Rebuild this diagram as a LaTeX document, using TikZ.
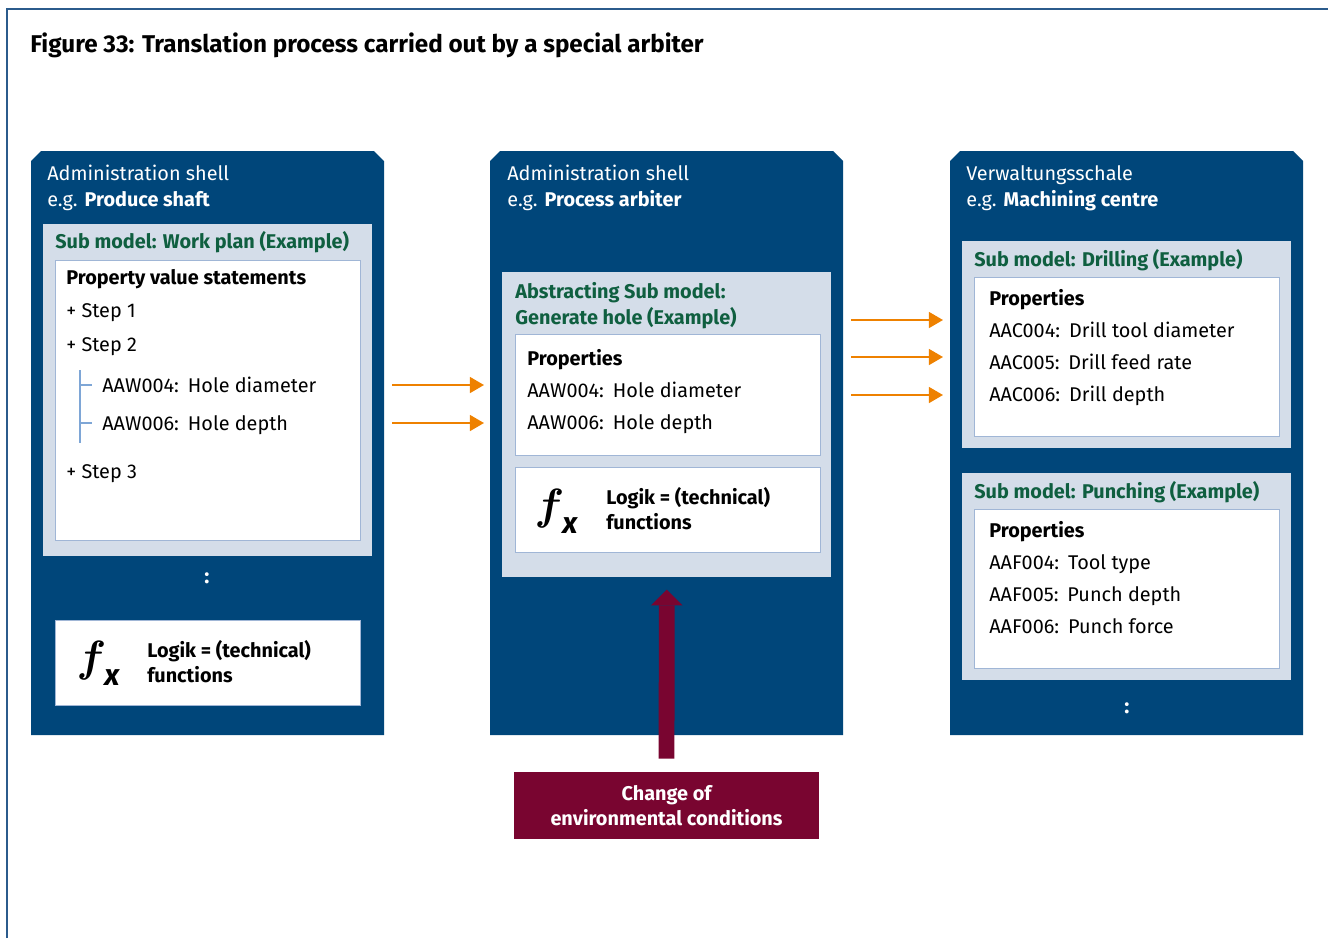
\documentclass[tikz,border=0pt]{standalone}
\usepackage{fontspec}
\setmainfont{Fira Sans}
\usetikzlibrary{arrows.meta, positioning, calc}

\definecolor{shellblue}{HTML}{00467A}
\definecolor{panelgrey}{HTML}{D4DDE9}
\definecolor{subgreen}{HTML}{0F5F40}
\definecolor{boxline}{HTML}{A0B6D6}
\definecolor{treeline}{HTML}{7EA6D6}
\definecolor{flowarrow}{HTML}{EE8100}
\definecolor{envred}{HTML}{790530}
\definecolor{framecol}{HTML}{2B5B8C}

\begin{document}
\begin{tikzpicture}[x=0.02cm, y=-0.02cm,
  txt/.style={anchor=base west, inner sep=0pt, font=\fontsize{11.3}{13}\selectfont},
  strong/.style={txt, font=\fontsize{11.3}{13}\selectfont\bfseries},
  shelltxt/.style={txt, text=white},
  subtitle/.style={strong, text=subgreen},
  panel/.style={fill=panelgrey, anchor=north west, inner sep=0pt, minimum width=6.58cm},
  whitebox/.style={fill=white, draw=boxline, line width=0.8pt, anchor=north west, inner sep=0pt, minimum width=6.1cm},
  fxsym/.style={inner sep=0pt, font=\fontsize{27}{27}\selectfont\boldmath},
  more/.style={inner sep=0pt, text=white, font=\fontsize{12}{13}\selectfont\bfseries},
  flow/.style={flowarrow, line width=1.1pt, -{Triangle[length=8pt, width=9pt]}},
  envarrow/.style={envred, line width=9pt, -{Triangle[length=9pt, width=18pt, line width=0pt]}},
  envbox/.style={fill=envred, text=white, align=center, inner sep=0pt, minimum width=6.1cm, minimum height=1.34cm, font=\fontsize{11.3}{14.2}\selectfont\bfseries}
]
\useasboundingbox (0,0) rectangle (1328,938);

% frame and title
\draw[framecol, line width=1.2pt] (7,938) -- (7,9) -- (1328,9);
\node[anchor=base west, inner sep=0pt, font=\fontsize{13.8}{16}\selectfont\bfseries] (title) at (30,52) {Figure 33: Translation process carried out by a special arbiter};

% the three administration shells
\foreach \sx in {31, 490, 950} {
  \fill[shellblue] (\sx,735) -- (\sx,161) -- (\sx+10,151) -- (\sx+343,151) -- (\sx+353,161) -- (\sx+353,735) -- cycle;
}

% left shell: produce shaft
\node[shelltxt] (adA) at (47,180) {Administration shell};
\node[shelltxt] (egA) at (47,206) {e.g. \textbf{Produce shaft}};
\node[panel, minimum height=6.64cm] (subA) at (43,224) {};
\node[subtitle] (subAt) at (55,248) {Sub model: Work plan (Example)};
\node[whitebox, minimum height=5.6cm] (pvA) at (55,260) {};
\node[strong] (pvAt) at (66,284) {Property value statements};
\node[txt] (step1) at (66,317) {+ Step 1};
\node[txt] (step2) at (66,351) {+ Step 2};
\node[txt] (aaw4) at (102,392) {AAW004:\hspace{.45em}Hole diameter};
\node[txt] (aaw6) at (102,430) {AAW006:\hspace{.45em}Hole depth};
\node[txt] (step3) at (66,478) {+ Step 3};
\draw[treeline, line width=0.8pt] (80,370) -- (80,443) (80,385) -- (92,385) (80,423) -- (92,423);
\node[more] (moreA) at (207,578) {:};
\node[whitebox, minimum height=1.7cm] (fnA) at (55,620) {};
\node[fxsym] (fxA) at (98,663) {$f$\kern-1pt\raisebox{-0.3em}{\fontsize{17}{17}\selectfont\bfseries\itshape x}};
\node[strong] (lgA) at (147,657) {Logik = (technical)};
\node[strong] (lgA2) at (147,682) {functions};

% middle shell: process arbiter
\node[shelltxt] (adB) at (507,180) {Administration shell};
\node[shelltxt] (egB) at (507,206) {e.g. \textbf{Process arbiter}};
\node[panel, minimum height=6.1cm] (subB) at (502,272) {};
\node[subtitle] (subBt) at (515,298) {Abstracting Sub model:};
\node[subtitle] (subBt2) at (515,324) {Generate hole (Example)};
\node[whitebox, minimum height=2.42cm] (prB) at (515,334) {};
\node[strong] (prBt) at (527,365) {Properties};
\node[txt] (gh4) at (527,397) {AAW004:\hspace{.45em}Hole diameter};
\node[txt] (gh6) at (527,429) {AAW006:\hspace{.45em}Hole depth};
\node[whitebox, minimum height=1.7cm] (fnB) at (515,467) {};
\node[fxsym] (fxB) at (556,511) {$f$\kern-1pt\raisebox{-0.3em}{\fontsize{17}{17}\selectfont\bfseries\itshape x}};
\node[strong] (lgB) at (606,504) {Logik = (technical)};
\node[strong] (lgB2) at (606,529) {functions};

% right shell: machining centre
\node[shelltxt] (adC) at (966,180) {Verwaltungsschale};
\node[shelltxt] (egC) at (966,206) {e.g. \textbf{Machining centre}};
\node[panel, minimum height=4.14cm] (subC) at (962,241) {};
\node[subtitle] (subCt) at (974,266) {Sub model: Drilling (Example)};
\node[whitebox, minimum height=3.18cm] (prC) at (974,277) {};
\node[strong] (prCt) at (989,305) {Properties};
\foreach \code/\name [count=\i] in {AAC004/Drill tool diameter, AAC005/Drill feed rate, AAC006/Drill depth}
  \node[txt] (drill\i) at (989,305+32.3*\i) {\code:\hspace{.45em}\name};
\node[panel, minimum height=4.14cm] (subD) at (962,473) {};
\node[subtitle] (subDt) at (974,498) {Sub model: Punching (Example)};
\node[whitebox, minimum height=3.18cm] (prD) at (974,509) {};
\node[strong] (prDt) at (989,537) {Properties};
\foreach \code/\name [count=\i] in {AAF004/Tool type, AAF005/Punch depth, AAF006/Punch force}
  \node[txt] (punch\i) at (989,537+32*\i) {\code:\hspace{.45em}\name};
\node[more] (moreC) at (1127,708) {:};

% translation arrows
\foreach \yy [count=\i] in {385, 423} {
  \coordinate (inL\i) at (392,\yy);
  \coordinate (inR\i) at (484,\yy);
  \draw[flow] (inL\i) -- (inR\i);
}
\foreach \yy [count=\i] in {320, 357, 395} {
  \coordinate (outL\i) at (851,\yy);
  \coordinate (outR\i) at (943,\yy);
  \draw[flow] (outL\i) -- (outR\i);
}

% environment
\node[envbox] (env) at (666.5,805.5) {Change of\\environmental conditions};
\draw[envarrow, shorten <=0.26cm, shorten >=0.24cm] (env.north) -- (subB.south);

\end{tikzpicture}
\end{document}
